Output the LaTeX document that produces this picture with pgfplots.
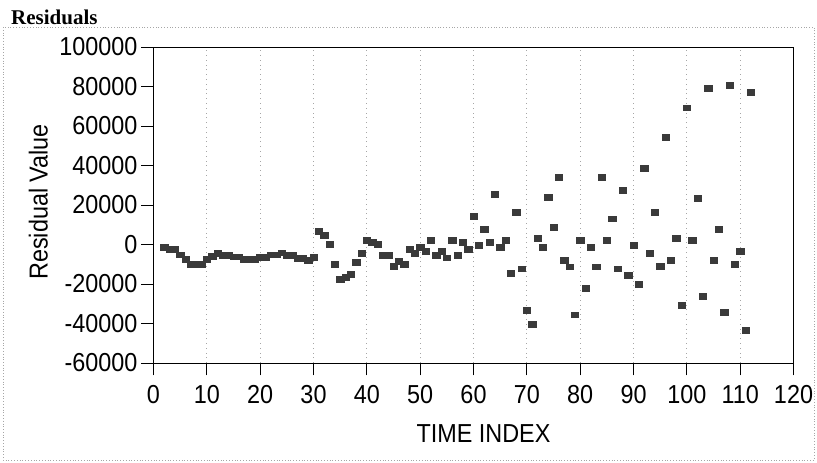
\documentclass[border=0pt]{standalone}
\usepackage{fontspec}
\usepackage{pgfplots}
\pgfplotsset{compat=1.18}
\usepackage{pgfplotstable}
\newfontfamily\chartfont[FakeStretch=0.9]{Liberation Sans}
\newfontfamily\titlefont{Liberation Serif}
\definecolor{markc}{HTML}{3A3A3A}
\pgfplotstableread{
t y
2 -1400
3 -2200
4 -2500
5 -5200
6 -7600
7 -10100
8 -10100
9 -10100
10 -7600
11 -5900
12 -4400
13 -5600
14 -5600
15 -6200
16 -6200
17 -7400
18 -7400
19 -7400
20 -6600
21 -6600
22 -5200
23 -5200
24 -4200
25 -5600
26 -5600
27 -7100
28 -7100
29 -7900
30 -6600
31 6700
32 4700
33 0
34 -10000
35 -17400
36 -16400
37 -15200
38 -8800
39 -4600
40 2200
41 1300
42 0
43 -5600
44 -5600
45 -11000
46 -8500
47 -9800
48 -2200
49 -4600
50 -1200
51 -3400
52 2200
53 -5600
54 -3400
55 -6700
56 2200
57 -5600
58 1200
59 -2500
60 14300
61 -400
62 7600
63 1000
64 25500
65 -1400
66 2000
67 -14700
68 16500
69 -12300
70 -33400
71 -40200
72 3000
73 -1400
74 23900
75 8600
76 34200
77 -7900
78 -11300
79 -35600
80 2000
81 -22300
82 -1400
83 -11300
84 34200
85 2000
86 13000
87 -12300
88 27500
89 -15700
90 -200
91 -20100
92 38800
93 -4600
94 16500
95 -11100
96 54500
97 -7800
98 3200
99 -30900
100 69200
101 2200
102 23300
103 -26300
104 79300
105 -7800
106 7700
107 -34300
108 80500
109 -10000
110 -3400
111 -43400
112 77100
}\resid
\begin{document}
\begin{tikzpicture}[x=1bp,y=1bp]
\useasboundingbox (0,0) rectangle (817,463);
\draw[gray!70, dotted, line width=0.8bp] (3,436) rectangle (814,3);
\node[anchor=base west, inner sep=0pt, font=\titlefont\bfseries\fontsize{21bp}{23bp}\selectfont] at (11,438.5) {Residuals};
\begin{axis}[
  at={(153.5bp,100bp)}, anchor=south west,
  scale only axis, width=640bp, height=316bp,
  xmin=0, xmax=120, ymin=-60000, ymax=100000,
  xtick={0,10,...,120}, ytick={-60000,-40000,...,100000},
  xticklabels={0,10,20,30,40,50,60,70,80,90,100,110,120},
  yticklabels={-60000,-40000,-20000,0,20000,40000,60000,80000,100000},
  scaled y ticks=false, scaled x ticks=false,
  tick align=outside, major tick length=12.5bp,
  xtick pos=bottom, ytick pos=left,
  tick style={black, line width=0.9bp},
  axis line style={black, line width=0.9bp},
  xmajorgrids,
  major grid style={gray!70, line width=0.8bp, dash pattern=on 0.8bp off 4bp},
  ticklabel style={font=\chartfont\fontsize{26bp}{30bp}\selectfont},
  xticklabel style={yshift=-6bp},
  label style={font=\chartfont\fontsize{26bp}{30bp}\selectfont},
  xlabel={TIME INDEX},
  ylabel={Residual Value},
  xlabel style={at={(axis description cs:0.5,0)}, anchor=center, yshift=-70.5bp, xshift=10bp},
  ylabel style={at={(axis description cs:-0.18,0.51)}, anchor=center, rotate=0},
]
\addplot[only marks, mark=square*, mark size=3.6bp, mark options={fill=markc, draw=markc, yscale=0.8}] table[x=t, y=y] {\resid};
\end{axis}
\end{tikzpicture}
\end{document}
